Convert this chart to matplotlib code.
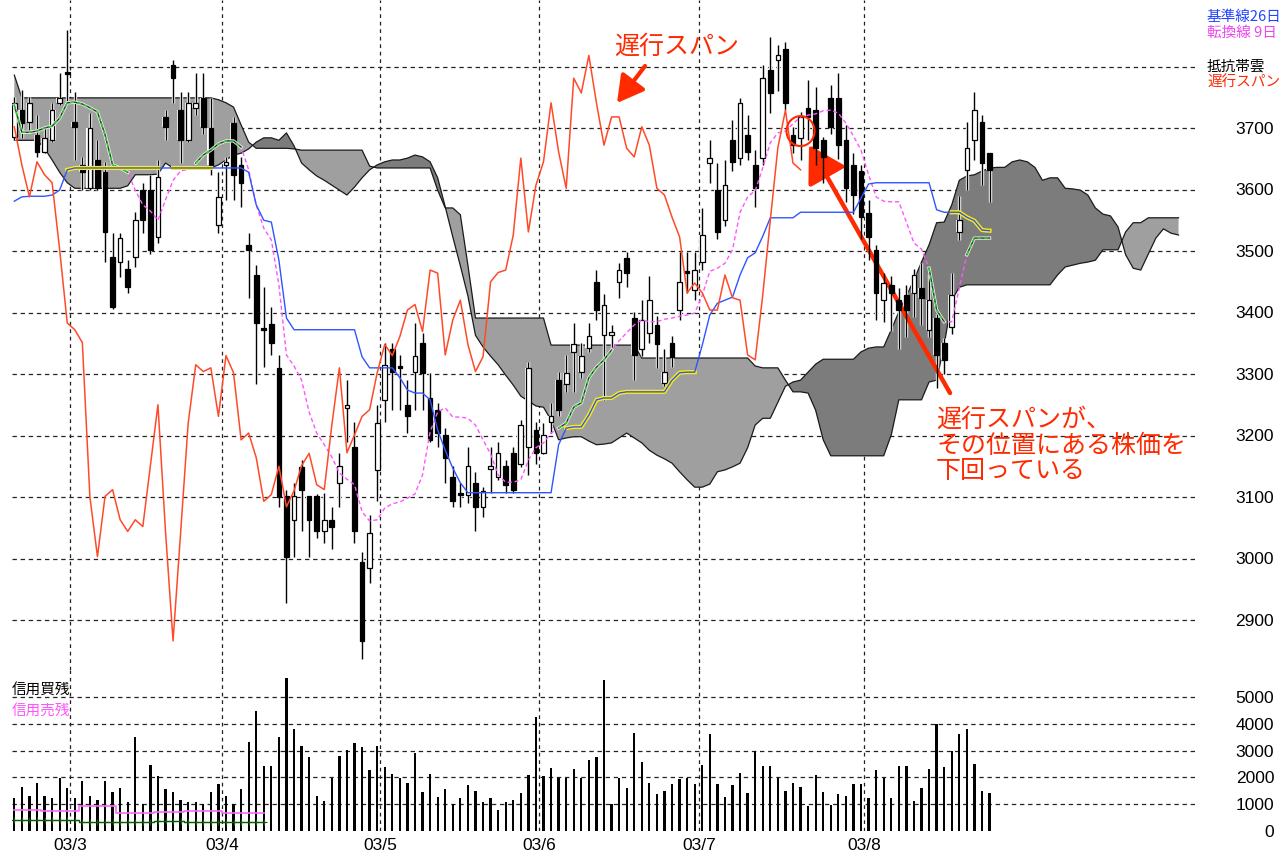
"""Ichimoku daily chart with cloud, kijun/tenkan/chikou lines and a volume panel."""

import numpy as np
import matplotlib
matplotlib.use("Agg")
import matplotlib.pyplot as plt
from matplotlib import font_manager
from matplotlib.patches import Ellipse

# ---- daily candles (index 0..129) ----
opens = [3685, 3729, 3710, 3689, 3661, 3681, 3741, 3790, 3710, 3640,
         3602, 3648, 3629, 3490, 3482, 3471, 3490, 3599, 3599, 3523,
         3718, 3802, 3729, 3681, 3733, 3749, 3700, 3542, 3640, 3708,
         3640, 3510, 3461, 3374, 3382, 3310, 3101, 3063, 3149, 3101,
         3101, 3044, 3063, 3123, 3244, 3182, 2994, 2985, 3144, 3258,
         3340, 3312, 3250, 3304, 3351, 3261, 3242, 3201, 3132, 3106,
         3104, 3123, 3084, 3145, 3133, 3150, 3172, 3153, 3182, 3209,
         3172, 3222, 3291, 3283, 3335, 3304, 3343, 3450, 3364, 3364,
         3450, 3489, 3391, 3340, 3367, 3380, 3286, 3351, 3404, 3467,
         3437, 3482, 3643, 3599, 3551, 3681, 3651, 3689, 3640, 3651,
         3794, 3810, 3828, 3689, 3684, 3733, 3729, 3680, 3749, 3749,
         3681, 3640, 3630, 3562, 3502, 3420, 3445, 3420, 3428, 3432,
         3440, 3372, 3391, 3351, 3377, 3531, 3632, 3680, 3710, 3659]
highs = [3750, 3762, 3750, 3721, 3702, 3741, 3789, 3859, 3759, 3653,
         3724, 3680, 3645, 3529, 3529, 3486, 3564, 3611, 3624, 3648,
         3729, 3810, 3758, 3758, 3789, 3789, 3749, 3629, 3653, 3718,
         3653, 3529, 3478, 3442, 3409, 3331, 3112, 3123, 3160, 3101,
         3105, 3107, 3083, 3172, 3290, 3222, 3011, 3071, 3250, 3351,
         3351, 3331, 3291, 3383, 3367, 3302, 3253, 3213, 3150, 3123,
         3182, 3141, 3117, 3182, 3190, 3160, 3182, 3225, 3320, 3222,
         3220, 3253, 3304, 3331, 3383, 3351, 3383, 3469, 3430, 3380,
         3481, 3499, 3401, 3420, 3460, 3395, 3340, 3361, 3499, 3499,
         3499, 3570, 3681, 3643, 3648, 3713, 3749, 3721, 3664, 3802,
         3848, 3835, 3840, 3702, 3726, 3778, 3767, 3685, 3770, 3789,
         3705, 3660, 3640, 3583, 3510, 3465, 3460, 3440, 3445, 3470,
         3480, 3462, 3398, 3358, 3465, 3590, 3710, 3758, 3721, 3659]
lows = [3680, 3684, 3697, 3653, 3659, 3677, 3737, 3741, 3648, 3599,
        3599, 3599, 3482, 3405, 3458, 3432, 3474, 3529, 3495, 3513,
        3681, 3741, 3643, 3677, 3721, 3690, 3624, 3529, 3583, 3583,
        3572, 3424, 3283, 3312, 3331, 3084, 2928, 3003, 3044, 3002,
        3034, 3026, 3015, 3084, 3190, 3026, 2836, 2960, 3093, 3222,
        3242, 3242, 3204, 3242, 3242, 3190, 3182, 3123, 3084, 3084,
        3091, 3044, 3068, 3107, 3128, 3107, 3107, 3148, 3136, 3153,
        3170, 3204, 3231, 3271, 3271, 3294, 3335, 3388, 3258, 3344,
        3424, 3442, 3291, 3330, 3350, 3310, 3280, 3312, 3388, 3432,
        3420, 3469, 3611, 3520, 3540, 3630, 3640, 3648, 3572, 3640,
        3725, 3760, 3730, 3660, 3648, 3680, 3640, 3611, 3690, 3650,
        3580, 3560, 3520, 3486, 3388, 3385, 3370, 3340, 3360, 3393,
        3380, 3360, 3278, 3300, 3365, 3518, 3599, 3648, 3607, 3580]
closes = [3741, 3708, 3741, 3661, 3684, 3729, 3749, 3788, 3702, 3629,
          3700, 3602, 3531, 3409, 3521, 3442, 3551, 3551, 3502, 3620,
          3702, 3781, 3681, 3741, 3741, 3702, 3640, 3588, 3645, 3624,
          3611, 3502, 3383, 3372, 3351, 3100, 3003, 3101, 3112, 3063,
          3044, 3063, 3052, 3151, 3250, 3044, 2866, 3042, 3220, 3315,
          3304, 3310, 3231, 3330, 3302, 3193, 3204, 3164, 3093, 3104,
          3150, 3084, 3110, 3151, 3171, 3120, 3112, 3217, 3310, 3172,
          3201, 3231, 3242, 3302, 3348, 3330, 3361, 3404, 3413, 3369,
          3469, 3464, 3331, 3388, 3420, 3348, 3304, 3328, 3450, 3465,
          3469, 3526, 3651, 3531, 3607, 3645, 3741, 3661, 3602, 3781,
          3757, 3818, 3741, 3672, 3718, 3718, 3667, 3653, 3702, 3672,
          3602, 3591, 3555, 3523, 3432, 3448, 3432, 3404, 3404, 3461,
          3424, 3420, 3331, 3323, 3428, 3550, 3668, 3729, 3643, 3632]
volume = [1220, 1660, 1320, 1800, 1320, 1220, 1980, 1620, 1220, 1850,
          1320, 1170, 1850, 1460, 1620, 1070, 3510, 1010, 2460, 2050,
          1560, 1460, 1170, 1070, 1100, 1010, 1460, 1760, 1320, 1010,
          1560, 3320, 4460, 2410, 2410, 3510, 5710, 3800, 3170, 2760,
          1320, 1120, 1990, 2800, 3020, 3270, 3120, 2270, 3170, 2370,
          2120, 1990, 1780, 2900, 1460, 2120, 1270, 1560, 1010, 1220,
          1710, 1500, 1100, 1220, 800, 1070, 1170, 1410, 2100, 4240,
          2050, 2350, 1990, 1990, 2320, 1990, 2660, 2760, 5650, 1010,
          1990, 1620, 3660, 2560, 1800, 1370, 1510, 1760, 1930, 1980,
          1760, 2460, 3610, 1760, 1270, 1710, 2150, 1410, 3000, 2410,
          2410, 1980, 1510, 1800, 1660, 930, 2100, 1460, 980, 1370,
          1320, 1760, 1760, 1220, 2270, 1980, 1220, 2410, 2410, 1120,
          1620, 2320, 4000, 2370, 2980, 3610, 3800, 2510, 1510, 1410]

# ---- ichimoku lines (per candle) ----
kijun = [3581, 3588, 3589, 3589, 3589, 3591, 3599, 3632, 3635, 3635,
         3635, 3635, 3635, 3635, 3635, 3635, 3635, 3635, 3635, 3635,
         3635, 3635, 3635, 3635, 3635, 3635, 3635, 3635, 3635, 3635,
         3635, 3628, 3575, 3550, 3547, 3485, 3391, 3372, 3372, 3372,
         3372, 3372, 3372, 3372, 3372, 3372, 3328, 3310, 3310, 3310,
         3310, 3294, 3274, 3269, 3269, 3258, 3209, 3176, 3147, 3123,
         3107, 3107, 3107, 3107, 3107, 3107, 3107, 3107, 3107, 3107,
         3107, 3107, 3185, 3212, 3214, 3214, 3233, 3258, 3261, 3261,
         3269, 3271, 3271, 3271, 3271, 3271, 3271, 3290, 3302, 3303,
         3303, 3347, 3396, 3415, 3420, 3425, 3461, 3489, 3497, 3524,
         3554, 3554, 3554, 3554, 3563, 3563, 3563, 3563, 3563, 3563,
         3563, 3563, 3586, 3609, 3611, 3611, 3611, 3611, 3611, 3611,
         3611, 3611, 3567, 3563, 3563, 3563, 3555, 3549, 3534, 3533]
tenkan = [3737, 3693, 3693, 3695, 3700, 3703, 3716, 3741, 3742, 3739,
          3733, 3726, 3689, 3640, 3635, 3628, 3599, 3575, 3565, 3550,
          3583, 3615, 3630, 3633, 3643, 3656, 3664, 3674, 3679, 3679,
          3669, 3632, 3575, 3537, 3518, 3445, 3331, 3313, 3290, 3238,
          3204, 3185, 3165, 3139, 3129, 3120, 3076, 3061, 3063, 3082,
          3089, 3092, 3098, 3105, 3136, 3206, 3238, 3245, 3230, 3230,
          3228, 3217, 3193, 3170, 3136, 3124, 3124, 3128, 3160, 3180,
          3188, 3204, 3212, 3220, 3246, 3253, 3294, 3311, 3323, 3339,
          3354, 3367, 3380, 3388, 3385, 3385, 3389, 3391, 3394, 3396,
          3399, 3428, 3467, 3472, 3480, 3502, 3563, 3588, 3598, 3635,
          3676, 3692, 3695, 3707, 3718, 3721, 3723, 3728, 3729, 3724,
          3708, 3687, 3664, 3624, 3588, 3581, 3580, 3580, 3547, 3513,
          3503, 3472, 3404, 3385, 3385, 3440, 3494, 3521, 3521, 3521]

# ---- cloud (leading spans, index 0..154) ----
span_a = [3680, 3680, 3680, 3680, 3667, 3648, 3628, 3611, 3602, 3602,
          3602, 3602, 3602, 3602, 3602, 3606, 3624, 3624, 3624, 3625,
          3643, 3635, 3635, 3635, 3635, 3635, 3635, 3640, 3648, 3656,
          3659, 3666, 3677, 3684, 3684, 3680, 3692, 3671, 3643, 3632,
          3622, 3615, 3607, 3599, 3591, 3604, 3619, 3632, 3640, 3645,
          3648, 3648, 3651, 3656, 3653, 3645, 3619, 3572, 3523, 3476,
          3427, 3363, 3344, 3329, 3315, 3298, 3282, 3264, 3256, 3248,
          3246, 3225, 3193, 3196, 3198, 3198, 3191, 3185, 3186, 3188,
          3196, 3204, 3196, 3188, 3176, 3168, 3162, 3155, 3141, 3128,
          3116, 3116, 3121, 3141, 3144, 3149, 3155, 3180, 3217, 3228,
          3228, 3254, 3280, 3287, 3290, 3303, 3316, 3324, 3324, 3324,
          3324, 3324, 3336, 3342, 3344, 3344, 3372, 3401, 3427, 3453,
          3482, 3510, 3546, 3547, 3575, 3615, 3622, 3624, 3630, 3635,
          3636, 3636, 3645, 3648, 3645, 3636, 3615, 3619, 3619, 3602,
          3601, 3599, 3591, 3570, 3560, 3557, 3539, 3494, 3472, 3469,
          3495, 3521, 3536, 3529, 3526]
span_b = [3786, 3749, 3749, 3749, 3749, 3749, 3749, 3749, 3749, 3749,
          3749, 3749, 3749, 3749, 3749, 3749, 3749, 3749, 3749, 3749,
          3749, 3749, 3749, 3749, 3749, 3749, 3749, 3746, 3741, 3734,
          3705, 3677, 3667, 3667, 3667, 3667, 3667, 3666, 3664, 3664,
          3664, 3664, 3664, 3664, 3664, 3664, 3664, 3638, 3635, 3635,
          3635, 3635, 3635, 3635, 3635, 3635, 3599, 3570, 3570, 3559,
          3477, 3391, 3391, 3391, 3391, 3391, 3391, 3391, 3391, 3391,
          3391, 3347, 3347, 3347, 3347, 3347, 3347, 3347, 3347, 3347,
          3347, 3347, 3347, 3326, 3326, 3326, 3326, 3326, 3326, 3326,
          3326, 3326, 3326, 3326, 3326, 3326, 3326, 3326, 3313, 3310,
          3310, 3310, 3290, 3271, 3271, 3269, 3241, 3193, 3167, 3167,
          3167, 3167, 3167, 3167, 3167, 3167, 3201, 3258, 3258, 3258,
          3258, 3287, 3290, 3347, 3420, 3441, 3445, 3445, 3445, 3445,
          3445, 3445, 3445, 3445, 3445, 3445, 3445, 3445, 3461, 3474,
          3477, 3480, 3482, 3485, 3502, 3502, 3502, 3531, 3546, 3546,
          3554, 3554, 3554, 3554, 3554]

# ---- margin balances in the volume panel (first 34 days) ----
margin_sell = [800, 800, 800, 800, 760, 760, 760, 760, 760, 930,
               930, 930, 930, 930, 660, 660, 660, 660, 660, 710,
               710, 710, 710, 760, 760, 760, 760, 760, 680, 680,
               680, 680, 680, 680]
margin_buy = [420, 420, 420, 420, 420, 420, 420, 420, 420, 320,
              320, 320, 320, 320, 320, 320, 320, 320, 320, 370,
              370, 370, 370, 320, 320, 320, 320, 320, 320, 320,
              320, 320, 320, 320]

month_pos = [7.4, 27.5, 48.4, 69.4, 90.6, 112.4]
month_labels = ["03/3", "03/4", "03/5", "03/6", "03/7", "03/8"]
price_ticks = [2900, 3000, 3100, 3200, 3300, 3400, 3500, 3600, 3700]
price_grid = [2900, 3000, 3100, 3200, 3300, 3400, 3500, 3600, 3700, 3800]
vol_ticks = [0, 1000, 2000, 3000, 4000, 5000]
CHIKOU_SHIFT = 25
CIRCLED_DAY = 104

# ---- fonts ----
installed = {f.name for f in font_manager.fontManager.ttflist}
NUM_FONT = "DejaVu Sans"
for cand in ("Liberation Sans Narrow", "Liberation Sans"):
    if cand in installed:
        NUM_FONT = cand
        break
NUM_SIZE = 12.5
plt.rcParams["font.family"] = ["Noto Sans CJK JP", "DejaVu Sans"]

RED = "#ff2a00"
W, H = 1282, 856
LEFT_PX, RIGHT_PX = 12, 1195
X0_PX, BAR_PX = 14.3, 7.56
PRICE_BOTTOM_PX, VOL_BOTTOM_PX = 670, 831

fig = plt.figure(figsize=(W / 100, H / 100), dpi=100)
ax = fig.add_axes([LEFT_PX / W, 1 - PRICE_BOTTOM_PX / H,
                   (RIGHT_PX - LEFT_PX) / W, PRICE_BOTTOM_PX / H])
axv = fig.add_axes([LEFT_PX / W, 1 - VOL_BOTTOM_PX / H,
                    (RIGHT_PX - LEFT_PX) / W, (VOL_BOTTOM_PX - PRICE_BOTTOM_PX) / H])

xlim = ((LEFT_PX - X0_PX) / BAR_PX, (RIGHT_PX - X0_PX) / BAR_PX)
px_per_yen = 61.5 / 100
ax.set_xlim(*xlim)
ax.set_ylim(3700 - (PRICE_BOTTOM_PX - 128) / px_per_yen, 3700 + 128 / px_per_yen)
axv.set_xlim(*xlim)
axv.set_ylim(0, (VOL_BOTTOM_PX - PRICE_BOTTOM_PX) / 26.8 * 1000)

for a in (ax, axv):
    for s in a.spines.values():
        s.set_visible(False)

# grid
grid_kw = dict(color="#222222", lw=0.9, zorder=0.5)
for p in price_grid:
    ax.axhline(p, ls=(0, (3.5, 3)), **grid_kw)
for v in vol_ticks[1:]:
    axv.axhline(v, ls=(0, (3.5, 3)), **grid_kw)
for m in month_pos:
    ax.axvline(m, ls=(0, (3, 3)), **grid_kw)
    axv.axvline(m, ls=(0, (3, 3)), **grid_kw)

# cloud
ci = np.arange(len(span_a))
sa = np.array(span_a, float)
sb = np.array(span_b, float)
ax.fill_between(ci, sa, sb, where=sa >= sb, interpolate=True, color="#7c7c7c", lw=0, zorder=1)
ax.fill_between(ci, sa, sb, where=sa < sb, interpolate=True, color="#9f9f9f", lw=0, zorder=1)
ax.plot(ci, sa, color="#1a1a1a", lw=0.9, zorder=1.5)
ax.plot(ci, sb, color="#1a1a1a", lw=0.9, zorder=1.5)

# candles
idx = np.arange(len(closes))
o = np.array(opens, float)
h = np.array(highs, float)
l = np.array(lows, float)
c = np.array(closes, float)
up = c >= o
body_lo = np.minimum(o, c)
body_h = np.maximum(np.abs(c - o), 2.5)
ax.vlines(idx, l, h, color="white", lw=2.4, zorder=3)
ax.bar(idx, body_h, bottom=body_lo, width=0.9, color="white", lw=0, zorder=3)
ax.vlines(idx, l, h, color="black", lw=1.0, zorder=4)
ax.bar(idx[up], body_h[up], bottom=body_lo[up], width=0.62, color="white",
       edgecolor="black", lw=0.9, zorder=5)
ax.bar(idx[~up], body_h[~up], bottom=body_lo[~up], width=0.62, color="black",
       edgecolor="black", lw=0.9, zorder=5)

# kijun / tenkan, highlighted where they run inside the cloud
k = np.array(kijun, float)
t = np.array(tenkan, float)
lo_c = np.minimum(sa[:len(k)], sb[:len(k)])
hi_c = np.maximum(sa[:len(k)], sb[:len(k)])
k_in = np.where((k >= lo_c) & (k <= hi_c), k, np.nan)
t_in = np.where((t >= lo_c) & (t <= hi_c), t, np.nan)

ax.plot(idx, t, color="#ff55ff", lw=1.0, ls=(0, (3, 2)), zorder=6)
ax.plot(idx, t_in, color="#e8e8e8", lw=2.4, zorder=6.05)
ax.plot(idx, t_in, color="#303030", lw=1.0, zorder=6.1)
ax.plot(idx, t_in, color="#22dd22", lw=1.0, ls=(0, (3, 2)), zorder=6.2)
ax.plot(idx, k_in, color="#ffee00", lw=3.0, zorder=6.3)
ax.plot(idx, k, color="#2f55ff", lw=1.0, zorder=6.4)

# chikou span: close plotted back in time
ax.plot(idx[CHIKOU_SHIFT:] - CHIKOU_SHIFT, c[CHIKOU_SHIFT:], color="#ff4a2a", lw=1.1, zorder=6.5)

# volume and margin balances
axv.bar(idx, volume, width=0.3, color="black", zorder=3)
mi = np.arange(len(margin_sell))
axv.plot(mi, margin_sell, color="#ff66ff", lw=1.2, drawstyle="steps-mid", zorder=4)
axv.plot(mi, margin_buy, color="#0a5a0a", lw=1.0, drawstyle="steps-mid",
         marker="+", ms=4, mew=0.8, zorder=4)

# axis labels
ax.set_xticks([])
ax.set_yticks(price_ticks)
ax.set_yticklabels([str(p) for p in price_ticks], family=NUM_FONT, fontsize=NUM_SIZE)
ax.yaxis.set_ticks_position("right")
ax.tick_params(axis="y", length=0, pad=57)
for lab in ax.get_yticklabels():
    lab.set_horizontalalignment("right")

axv.set_yticks(vol_ticks)
axv.set_yticklabels([str(v) for v in vol_ticks], family=NUM_FONT, fontsize=NUM_SIZE)
axv.yaxis.set_ticks_position("right")
axv.tick_params(axis="y", length=0, pad=57)
for lab in axv.get_yticklabels():
    lab.set_horizontalalignment("right")
axv.set_xticks(month_pos)
axv.set_xticklabels(month_labels, family=NUM_FONT, fontsize=NUM_SIZE)
axv.tick_params(axis="x", length=0, pad=5)


def fx(x):
    return x / W


def fy(y):
    return 1 - y / H


# legend texts
fig.text(fx(1207), fy(17), "基準線26日", color="#2244ff", fontsize=10.5, va="center")
fig.text(fx(1207), fy(33), "転換線 9日", color="#ee44ee", fontsize=10.5, va="center")
fig.text(fx(1207), fy(67), "抵抗帯雲", color="black", fontsize=10.5, va="center")
fig.text(fx(1207), fy(83), "遅行スパン", color=RED, fontsize=10.5, va="center")
fig.text(fx(12), fy(690), "信用買残", color="black", fontsize=10.5, va="center")
fig.text(fx(12), fy(711), "信用売残", color="#ff55ff", fontsize=10.5, va="center")

# annotations
fig.text(fx(614), fy(47), "遅行スパン", color=RED, fontsize=18, va="center")
ax.annotate("", xy=(617, H - 103), xytext=(645, H - 66), xycoords="figure pixels",
            arrowprops=dict(arrowstyle="-|>,head_length=0.8,head_width=0.45",
                            color=RED, lw=3, mutation_scale=20, shrinkA=0, shrinkB=0))
ax.annotate("", xy=(809, H - 145), xytext=(950, H - 393), xycoords="figure pixels",
            arrowprops=dict(arrowstyle="-|>,head_length=0.85,head_width=0.5",
                            color=RED, lw=3.2, mutation_scale=26, shrinkA=0, shrinkB=0))
ax.add_patch(Ellipse((CIRCLED_DAY, (o[CIRCLED_DAY] + c[CIRCLED_DAY]) / 2 - 6),
                     width=28 / BAR_PX, height=30 / px_per_yen,
                     fill=False, edgecolor=RED, lw=1.5, zorder=8))

for y, line in [(420, "遅行スパンが、"), (446, "その位置にある株価を"), (471, "下回っている")]:
    fig.text(fx(936), fy(y), line, color=RED, fontsize=18, va="center")

fig.savefig("out.png", dpi=100)
